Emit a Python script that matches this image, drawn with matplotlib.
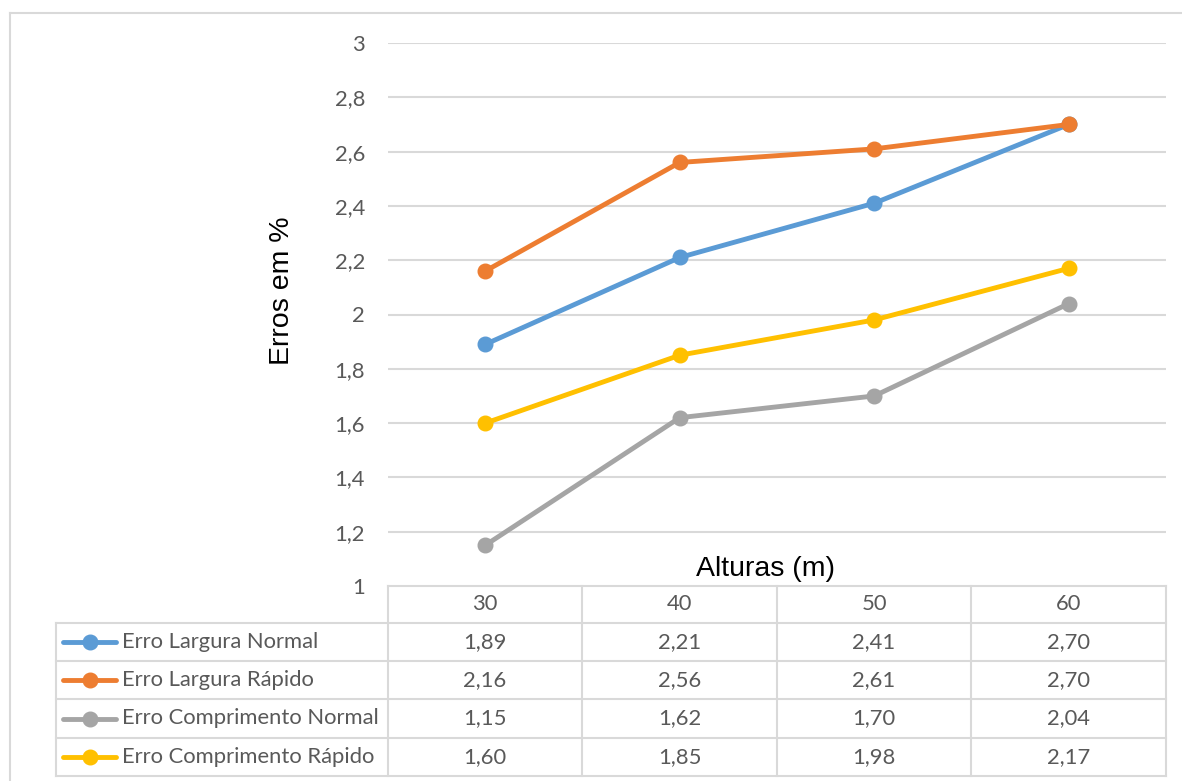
import matplotlib
matplotlib.use("Agg")
import matplotlib.pyplot as plt
from matplotlib.lines import Line2D

categories = ["30", "40", "50", "60"]
series_names = ["Erro Largura Normal", "Erro Largura Rápido",
                "Erro Comprimento Normal", "Erro Comprimento Rápido"]
largura_normal = [1.89, 2.21, 2.41, 2.70]
largura_rapido = [2.16, 2.56, 2.61, 2.70]
comprimento_normal = [1.15, 1.62, 1.70, 2.04]
comprimento_rapido = [1.60, 1.85, 1.98, 2.17]
y_ticks = [1, 1.2, 1.4, 1.6, 1.8, 2, 2.2, 2.4, 2.6, 2.8, 3]
y_tick_labels = ["1", "1,2", "1,4", "1,6", "1,8", "2", "2,2", "2,4", "2,6", "2,8", "3"]

series = [largura_normal, largura_rapido, comprimento_normal, comprimento_rapido]
colors = ["#5B9BD5", "#ED7D31", "#A5A5A5", "#FFC000"]

W, H = 1182, 781
fig = plt.figure(figsize=(W / 100, H / 100), dpi=100)
fig.patch.set_facecolor("white")

TXT = "#595959"
GRID = "#D9D9D9"
FONT = "Lato"
FS = 15.8

def fx(px):
    return px / W

def fy(py):
    return 1 - py / H

# outer frame (chart area border)
fig.add_artist(Line2D([fx(10), fx(10)], [fy(13), 0], transform=fig.transFigure, color=GRID, lw=1.5))
fig.add_artist(Line2D([fx(10), 1], [fy(13), fy(13)], transform=fig.transFigure, color=GRID, lw=1.5))

# plot area
x0, x1, ytop, ybot = 388, 1166, 43, 586
ax = fig.add_axes([fx(x0), fy(ybot), fx(x1) - fx(x0), fy(ytop) - fy(ybot)])
ax.set_xlim(0, len(categories))
ax.set_ylim(1, 3)
for s in ax.spines.values():
    s.set_visible(False)
ax.set_xticks([])
ax.set_yticks(y_ticks)
ax.set_yticklabels(y_tick_labels, fontsize=FS, color=TXT, family=FONT)
ax.tick_params(axis="y", length=0, pad=16.5)
for t in y_ticks[1:]:
    ax.axhline(t, color=GRID, lw=1.5, zorder=1)

xs = [i + 0.5 for i in range(len(categories))]
for vals, c in zip(series, colors):
    ax.plot(xs, vals, color=c, lw=3.5, marker="o", markersize=10.5, zorder=3,
            solid_capstyle="round")

fig.text(fx(765), fy(569), "Alturas (m)", ha="center", va="center",
         fontsize=20.5, family="Liberation Sans", color="black")
fig.text(fx(282), fy(291), "Erros em %", ha="center", va="center", rotation=90,
         fontsize=20.5, family="Liberation Sans", color="black")

# data table
tab_left = 56
col_edges = [388, 582, 777, 971, 1166]
row_edges = [586, 623, 661, 699, 738, 776]
tax = fig.add_axes([0, 0, 1, 1])
tax.set_xlim(0, W)
tax.set_ylim(H, 0)
tax.axis("off")
tax.patch.set_alpha(0)

# horizontal lines
tax.plot([col_edges[0], col_edges[-1]], [row_edges[0]] * 2, color=GRID, lw=1.5)
for r in row_edges[1:]:
    tax.plot([tab_left, col_edges[-1]], [r, r], color=GRID, lw=1.5)
# vertical lines
tax.plot([tab_left, tab_left], [row_edges[1], row_edges[-1]], color=GRID, lw=1.5)
for c in col_edges:
    tax.plot([c, c], [row_edges[0], row_edges[-1]], color=GRID, lw=1.5)

# header
for i, cat in enumerate(categories):
    cx = (col_edges[i] + col_edges[i + 1]) / 2
    cy = (row_edges[0] + row_edges[1]) / 2
    tax.text(cx, cy, cat, ha="center", va="center", fontsize=FS, color=TXT, family=FONT)

for r, (name, vals, c) in enumerate(zip(series_names, series, colors)):
    cy = (row_edges[r + 1] + row_edges[r + 2]) / 2
    tax.plot([63, 116], [cy, cy], color=c, lw=3.5, solid_capstyle="round")
    tax.plot([89.5], [cy], marker="o", color=c, markersize=10.5)
    tax.text(122, cy, name, ha="left", va="center", fontsize=FS, color=TXT, family=FONT)
    for i, v in enumerate(vals):
        cx = (col_edges[i] + col_edges[i + 1]) / 2
        tax.text(cx, cy, f"{v:.2f}".replace(".", ","), ha="center", va="center",
                 fontsize=FS, color=TXT, family=FONT)

fig.savefig("out.png", dpi=100, facecolor="white")
